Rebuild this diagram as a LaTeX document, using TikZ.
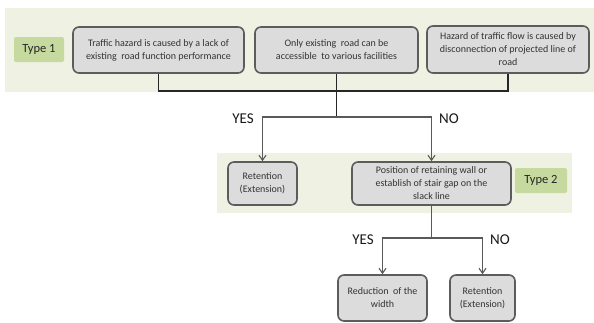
\documentclass[tikz,border=0pt]{standalone}
\usepackage{fontspec}
\setmainfont{Carlito}
\usetikzlibrary{arrows.meta}
\definecolor{bandc}{HTML}{EFF1E2}
\definecolor{typec}{HTML}{C6D99E}
\definecolor{boxc}{HTML}{DCDCDC}
\definecolor{edgec}{HTML}{5C5C5C}
\definecolor{txtc}{HTML}{333333}
\tikzset{
  band/.style={fill=bandc, draw=none},
  typebox/.style={fill=typec, draw=none, rounded corners=2pt, font=\fontsize{12.5}{14}\selectfont, text=black!85, inner sep=0pt},
  procbox/.style={fill=boxc, draw=edgec, line width=1.6pt, rounded corners=6pt, align=center, inner sep=2pt, text=txtc, font=\fontsize{10}{13}\selectfont},
  topline/.style={draw=black!85, line width=1.1pt},
  arrline/.style={draw=black!65, line width=1.1pt, -{Straight Barb[length=5pt,width=7pt]}},
  plainline/.style={draw=black!65, line width=1.1pt},
  lab/.style={font=\fontsize{15}{17}\selectfont, text=black!90, inner sep=0pt}
}
\begin{document}
\begin{tikzpicture}[x=1pt,y=-1pt]
\useasboundingbox (0,0) rectangle (594,322);
\fill[white] (0,0) rectangle (594,322);
\path[band] (5,8) rectangle (594,92);
\path[band] (217,153) rectangle (572,213);
\node[typebox, minimum width=50pt, minimum height=25pt] (t1) at (39,49.5) {Type 1};
\node[procbox, minimum width=171pt, minimum height=46pt] (b1) at (158.5,50) {Traffic hazard is caused by a lack of\\existing\ \ road function performance};
\node[procbox, minimum width=163pt, minimum height=46pt] (b2) at (336.5,50) {Only existing\ \ road can be\\accessible\ \ to various facilities};
\node[procbox, minimum width=162pt, minimum height=47pt] (b3) at (508,49.5) {Hazard of traffic flow is caused by\\disconnection of projected line of\\road};
\node[procbox, minimum width=69pt, minimum height=43pt] (r1) at (262.5,183.5) {Retention\\(Extension)};
\node[procbox, minimum width=159pt, minimum height=43pt] (p1) at (431.5,183.5) {Position of retaining wall or\\establish of stair gap on the\\slack line};
\node[typebox, minimum width=52pt, minimum height=25pt] (t2) at (541,180.5) {Type 2};
\node[procbox, minimum width=89pt, minimum height=46pt] (rd) at (382.5,298) {Reduction\ \ of the\\width};
\node[procbox, minimum width=65pt, minimum height=46pt] (r2) at (482.5,298) {Retention\\(Extension)};
\coordinate (j1) at (336.5,91);
\coordinate (j2) at (336.5,117);
\coordinate (j3) at (431.5,238);
\draw[topline] (b1.south) |- (j1) -| (b3.south);
\draw[topline] (b2.south) -- (j2);
\draw[arrline] (j2) -| (r1.north);
\draw[arrline] (j2) -| (p1.north);
\draw[plainline] (p1.south) -- (j3);
\draw[arrline] (j3) -| (rd.north);
\draw[arrline] (j3) -| (r2.north);
\node[lab] (yes1) at (243,119) {YES};
\node[lab] (no1) at (449,119) {NO};
\node[lab] (yes2) at (363,240) {YES};
\node[lab] (no2) at (500,240) {NO};
\end{tikzpicture}
\end{document}
